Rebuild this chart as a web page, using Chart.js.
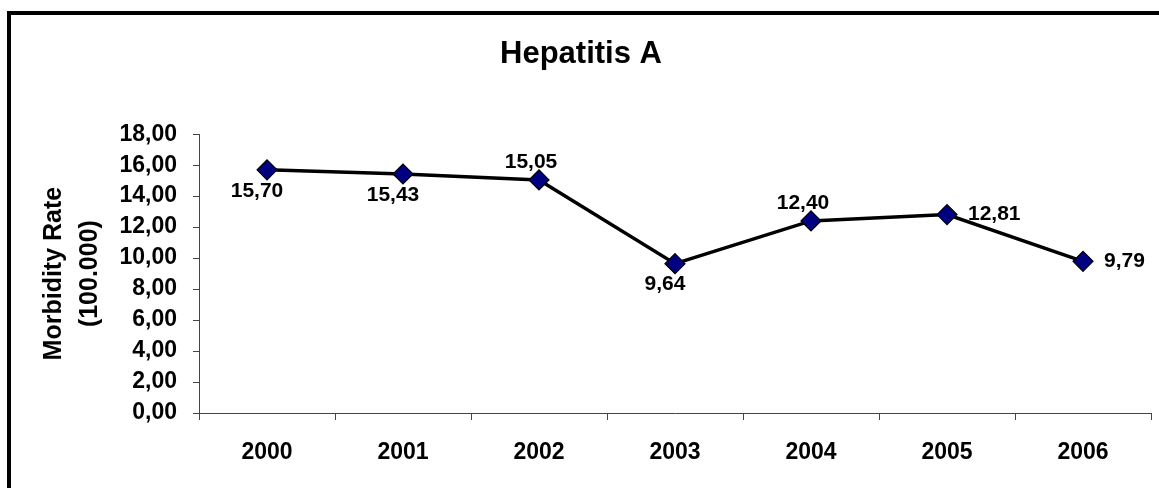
<!DOCTYPE html>
<html>
<head>
<meta charset="utf-8">
<title>Hepatitis A</title>
<script src="https://cdn.jsdelivr.net/npm/chart.js@4"></script>
<style>
  html, body { margin: 0; padding: 0; background: #fff; overflow: hidden; width: 1159px; height: 488px; }
  #frame {
    position: absolute; left: 7px; top: 11px;
    width: 1160px; height: 480px;
    border: 4px solid #000; background: #fff;
  }
  canvas { display: block; }
</style>
</head>
<body>
<div id="frame"><canvas id="chart" width="1160" height="480"></canvas></div>
<script>
// Hepatitis A morbidity rate per 100.000, by year
const years = ['2000', '2001', '2002', '2003', '2004', '2005', '2006'];
const morbidityRate = [15.70, 15.43, 15.05, 9.64, 12.40, 12.81, 9.79];
const yTicks = [0, 2, 4, 6, 8, 10, 12, 14, 16, 18];

// where each value label sits relative to its marker
const labelPlacement = ['below', 'below', 'above', 'below', 'above', 'right', 'right'];

const FONT = "'Liberation Sans', Arial, sans-serif";
const fmt = v => v.toFixed(2).replace('.', ',');

const valueLabels = {
  id: 'valueLabels',
  afterDatasetsDraw(chart) {
    const ctx = chart.ctx;
    const meta = chart.getDatasetMeta(0);
    const values = chart.data.datasets[0].data;
    ctx.save();
    ctx.font = 'bold 21px ' + FONT;
    ctx.fillStyle = '#000';
    ctx.textBaseline = 'middle';
    meta.data.forEach((pt, i) => {
      const text = fmt(values[i]);
      const place = labelPlacement[i];
      if (place === 'right') {
        ctx.textAlign = 'left';
        ctx.fillText(text, pt.x + 21, pt.y);
      } else if (place === 'above') {
        ctx.textAlign = 'center';
        ctx.fillText(text, pt.x - 8, pt.y - 18);
      } else {
        ctx.textAlign = 'center';
        ctx.fillText(text, pt.x - 10, pt.y + 21);
      }
    });
    ctx.restore();
  }
};

new Chart(document.getElementById('chart'), {
  type: 'line',
  data: {
    labels: years,
    datasets: [{
      data: morbidityRate,
      borderColor: '#000',
      borderWidth: 3.5,
      tension: 0,
      pointStyle: 'rectRot',
      pointRadius: 10,
      pointHoverRadius: 10,
      pointBackgroundColor: '#000080',
      pointBorderColor: '#000',
      pointBorderWidth: 1.2
    }]
  },
  options: {
    responsive: false,
    animation: false,
    layout: { padding: { left: 0, right: 20, top: 0, bottom: 0 } },
    plugins: {
      legend: { display: false },
      tooltip: { enabled: false },
      title: {
        display: true,
        text: 'Hepatitis A',
        color: '#000',
        font: { family: FONT, size: 31, weight: 'bold', lineHeight: 1.2 },
        padding: { top: 21, bottom: 61 }
      }
    },
    scales: {
      x: {
        offset: true,
        grid: { display: true, offset: true, drawOnChartArea: false, drawTicks: true, tickLength: 7, color: '#444', lineWidth: 1 },
        border: { display: true, color: '#444', width: 1 },
        ticks: { color: '#000', padding: 19, font: { family: FONT, size: 23, weight: 'bold' } },
        afterFit(scale) { scale.height = 82; }
      },
      y: {
        min: 0,
        max: 18,
        afterBuildTicks(scale) { scale.ticks = yTicks.map(v => ({ value: v })); },
        grid: { display: true, drawOnChartArea: false, drawTicks: true, tickLength: 6, color: '#444', lineWidth: 1 },
        border: { display: true, color: '#444', width: 1 },
        ticks: {
          color: '#000',
          padding: 16,
          font: { family: FONT, size: 23, weight: 'bold' },
          callback: v => fmt(v)
        },
        title: {
          display: true,
          text: ['Morbidity Rate', '(100.000)'],
          color: '#000',
          font: { family: FONT, size: 25, weight: 'bold', lineHeight: 1.44 },
          padding: { top: 25, bottom: 0 }
        },
        afterFit(scale) { scale.width = 188; }
      }
    }
  },
  plugins: [valueLabels]
});
</script>
</body>
</html>
